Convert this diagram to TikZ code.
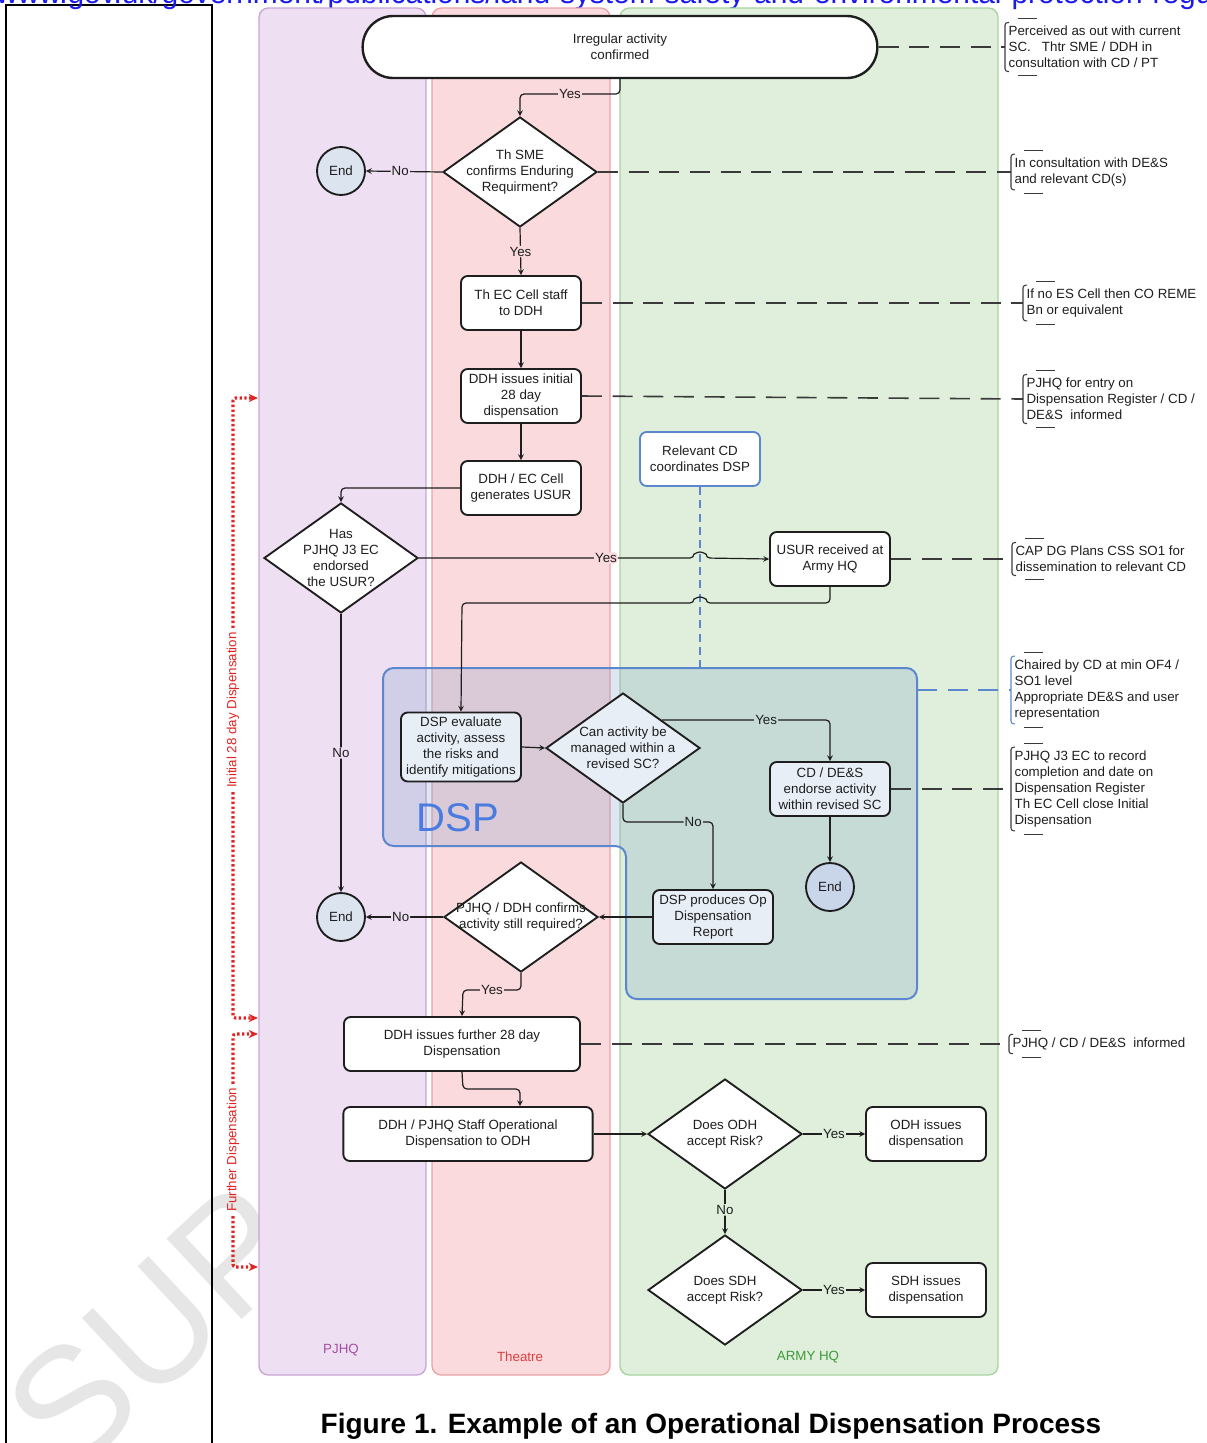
\documentclass[tikz,border=0pt]{standalone}
\usepackage{fontspec}
\setmainfont{Liberation Sans}
\usetikzlibrary{shapes.geometric,arrows.meta}

\definecolor{pjhqfill}{HTML}{EEDFF2}
\definecolor{pjhqline}{HTML}{C7A6D4}
\definecolor{pjhqtext}{HTML}{A2509E}
\definecolor{thfill}{HTML}{FADADC}
\definecolor{thline}{HTML}{EAA3A7}
\definecolor{thtext}{HTML}{D9403F}
\definecolor{armyfill}{HTML}{DFEFDB}
\definecolor{armyline}{HTML}{A8D3A0}
\definecolor{armytext}{HTML}{3C9A3C}
\definecolor{dspline}{HTML}{5B87CF}
\definecolor{dspfill}{HTML}{7C9CCB}
\definecolor{dsptext}{HTML}{4A7CE0}
\definecolor{dspnode}{HTML}{E8EEF6}
\definecolor{dsplbl}{HTML}{C6DAD7}
\definecolor{endfill}{HTML}{DCE4F0}
\definecolor{inkc}{HTML}{1E1E1E}
\definecolor{notec}{HTML}{3A3A3A}
\definecolor{bracered}{HTML}{E02424}
\definecolor{urlblue}{HTML}{1A1AEE}
\definecolor{wmgray}{HTML}{E6E6E6}

\tikzset{
  proc/.style={rectangle, draw=inkc, line width=1.4pt, rounded corners=5pt, fill=white,
    align=center, inner sep=1pt, minimum width=90pt, minimum height=40.5pt, text=inkc},
  dspproc/.style={proc, fill=dspnode},
  startbox/.style={proc, line width=1.8pt, rounded corners=23pt, minimum width=386pt, minimum height=46.5pt},
  decision/.style={diamond, draw=inkc, line width=1.4pt, fill=white, inner sep=0pt,
    minimum width=115.5pt, minimum height=82.5pt},
  dtext/.style={align=center, text=inkc, inner sep=0pt},
  endpt/.style={circle, draw=inkc, line width=1.4pt, fill=endfill, minimum size=36pt, inner sep=0pt, text=inkc},
  flow/.style={->, draw=inkc, line width=0.9pt, rounded corners=3pt},
  lbl/.style={inner sep=0.8pt, text=inkc},
  note/.style={anchor=west, align=left, inner sep=2.5pt, text=inkc},
  notelink/.style={draw=notec, line width=1.2pt, dash pattern=on 15pt off 8pt},
  brk/.style={draw=notec, line width=0.8pt},
  lane/.style={rounded corners=7pt, line width=1pt},
  brace/.style={-{Stealth[length=7pt,width=6pt]}, draw=bracered, line width=2.3pt,
    dash pattern=on 1.8pt off 1.8pt, rounded corners=2pt},
}

\begin{document}
\begin{tikzpicture}[x=0.75pt, y=-0.75pt, >=stealth, font=\fontsize{10}{12}\selectfont]
  \useasboundingbox (0,0) rectangle (1207,1443);
  \clip (0,0) rectangle (1207,1443);

  % Watermark, frame and link text
  \node[rotate=43, anchor=base west, inner sep=0pt, text=wmgray, font=\fontsize{120}{120}\selectfont] (wm) at (70,1480) {SUP};
  \draw[line width=1.5pt] (6,5) rectangle (212,1460);
  \node[anchor=base west, inner sep=0pt, text=urlblue, font=\fontsize{22.4}{26}\selectfont] (url) at (-4,3.5)
    {www.gov.uk/government/publications/land-system-safety-and-environmental-protection-regu};

  % Lanes
  \path[lane, draw=pjhqline, fill=pjhqfill] (259,8) rectangle (426,1375);
  \path[lane, draw=thline, fill=thfill] (432,8) rectangle (610,1375);
  \path[lane, draw=armyline, fill=armyfill] (620,8) rectangle (998,1375);
  \node[text=pjhqtext] (lp) at (341,1350) {PJHQ};
  \node[text=thtext] (lt) at (520,1357) {Theatre};
  \node[text=armytext] (la) at (808,1357) {ARMY HQ};

  % DSP group
  \path[draw=dspline, line width=1.5pt, fill=dspfill, fill opacity=0.25, rounded corners=8pt]
    (383,668) -- (917,668) -- (917,999) -- (626,999) -- (626,846) -- (383,846) -- cycle;
  \node[text=dsptext, font=\fontsize{30}{30}\selectfont] (dsplbl) at (458,818) {DSP};
  \coordinate (dspT) at (700,668);
  \coordinate (dspR) at (917,690);

  % Nodes
  \node[startbox] (st) at (620,47) {Irregular activity\\confirmed};
  \node[decision, label={[dtext]center:{Th SME\\confirms Enduring\\Requirment?}}] (d1) at (520,172) {};
  \node[endpt] (e1) at (341,171) {End};
  \node[proc] (b2) at (521,303) {Th EC Cell staff\\to DDH};
  \node[proc] (b3) at (521,396) {DDH issues initial\\28 day\\dispensation};
  \node[proc] (b4) at (521,488) {DDH / EC Cell\\generates USUR};
  \node[decision, label={[dtext]center:{Has\\PJHQ J3 EC\\endorsed\\the USUR?}}] (d2) at (341,558) {};
  \node[proc, draw=dspline] (rcd) at (700,459) {Relevant CD\\coordinates DSP};
  \node[proc] (usur) at (830,559) {USUR received at\\Army HQ};
  \node[dspproc, minimum height=51.75pt] (eval) at (461,747) {DSP evaluate\\activity, assess\\the risks and\\identify mitigations};
  \node[decision, fill=dspnode, label={[dtext]center:{Can activity be\\managed within a\\revised SC?}}] (d3) at (623,748) {};
  \node[dspproc] (cd) at (830,789) {CD / DE\&S\\endorse activity\\within revised SC};
  \node[endpt, fill=endfill!80!dspfill] (e3) at (830,887) {End};
  \node[dspproc] (prod) at (713,917) {DSP produces Op\\Dispensation\\Report};
  \node[decision, label={[dtext]center:{PJHQ / DDH confirms\\activity still required?}}] (d4) at (521,917) {};
  \node[endpt] (e2) at (341,917) {End};
  \node[proc, minimum width=177pt] (fur) at (462,1044) {DDH issues further 28 day\\Dispensation};
  \node[proc, minimum width=187pt] (staff) at (468,1134) {DDH / PJHQ Staff Operational\\Dispensation to ODH};
  \node[decision, label={[dtext]center:{Does ODH\\accept Risk?}}] (dodh) at (725,1134) {};
  \node[proc] (odh) at (926,1134) {ODH issues\\dispensation};
  \node[decision, label={[dtext]center:{Does SDH\\accept Risk?}}] (dsdh) at (725,1290) {};
  \node[proc] (sdh) at (926,1290) {SDH issues\\dispensation};
  \coordinate (k1) at (520,1089);

  % Notes
  \node[note] (n1) at (1005,47) {Perceived as out with current\\SC.\ \ \ Thtr SME / DDH in\\consultation with CD / PT};
  \node[note] (n2) at (1011,172) {In consultation with DE\&S\\and relevant CD(s)};
  \node[note] (n3) at (1023,303) {If no ES Cell then CO REME\\Bn or equivalent};
  \node[note] (n4) at (1023,399) {PJHQ for entry on\\Dispensation Register / CD /\\DE\&S\ \ informed};
  \node[note] (n5) at (1012,559) {CAP DG Plans CSS SO1 for\\dissemination to relevant CD};
  \node[note] (n6) at (1011,690) {Chaired by CD at min OF4 /\\SO1 level\\Appropriate DE\&S and user\\representation};
  \node[note] (n7) at (1011,789) {PJHQ J3 EC to record\\completion and date on\\Dispensation Register\\Th EC Cell close Initial\\Dispensation};
  \node[note] (n8) at (1009,1044) {PJHQ / CD / DE\&S\ \ informed};
  \foreach \n/\c in {n1/notec,n2/notec,n3/notec,n4/notec,n5/notec,n6/dspline,n7/notec,n8/notec} {
    \draw[brk, draw=\c, rounded corners=2pt] ([xshift=3pt]\n.north west) -| (\n.south west) -- ++(3pt,0);
    \draw[brk] ([xshift=10pt,yshift=3pt]\n.north west) -- ++(14pt,0);
    \draw[brk] ([xshift=10pt,yshift=-3pt]\n.south west) -- ++(14pt,0);
  }

  % Dashed links to notes
  \draw[draw=dspline, line width=1.2pt, dash pattern=on 6pt off 4pt] (rcd.south) -- (dspT);
  \draw[notelink] (st.east) -- (n1.west);
  \draw[notelink] (d1.east) -- (n2.west);
  \draw[notelink] (b2.east) -- (n3.west);
  \draw[notelink] (b3.east) -- (n4.west);
  \draw[notelink] (usur.east) -- (n5.west);
  \draw[notelink, draw=dspline] (dspR) -- (n6.west);
  \draw[notelink] (cd.east) -- (n7.west);
  \draw[notelink] (fur.east) -- (n8.west);

  % Arrows with labels
  \draw[flow] (st.south) -- (620,94) -- node[lbl, fill=thfill] {Yes} (520,94) -- (d1.north);
  \draw[flow] (d1.west) -- node[lbl, fill=pjhqfill, pos=0.55] {No} (e1.east);
  \draw[flow] (d1.south) -- node[lbl, fill=thfill] {Yes} (b2.north);
  \draw[flow] (b2) -- (b3);
  \draw[flow] (b3) -- (b4);
  \draw[flow] (b4.west) -| (d2.north);
  \draw[flow] (d2.east) -- node[lbl, fill=thfill, pos=0.68] {Yes} (694,558)
    arc[start angle=180, end angle=0, radius=4.5pt] -- (usur.west);
  \draw[flow] (usur.south) -- (830,603) -- (706,603)
    arc[start angle=0, end angle=180, radius=4.5pt] -- (462,603) -- (eval.north);
  \draw[flow] (eval.east) -- (d3.west);
  \draw[flow] (d3.north east) -- node[lbl, fill=dsplbl, pos=0.62] {Yes} (830,720) -- (cd.north);
  \draw[flow] (cd.south) -- (e3.north);
  \draw[flow] (d3.south) -- (623,822) -- node[lbl, fill=dsplbl, pos=0.78] {No} (713,822) -- (prod.north);
  \draw[flow] (prod.west) -- (d4.east);
  \draw[flow] (d4.west) -- node[lbl, fill=pjhqfill, pos=0.55] {No} (e2.east);
  \draw[flow] (d2.south) -- node[lbl, fill=pjhqfill] {No} (e2.north);
  \draw[flow] (d4.south) -- (521,990) -- node[lbl, fill=thfill] {Yes} (463,990) -- (fur.north);
  \draw[flow] (fur.south) -- (463,1089) -- (k1) -- (k1 |- staff.north);
  \draw[flow] (staff.east) -- (dodh.west);
  \draw[flow] (dodh.east) -- node[lbl, fill=armyfill] {Yes} (odh.west);
  \draw[flow] (dodh.south) -- node[lbl, fill=armyfill, pos=0.45] {No} (dsdh.north);
  \draw[flow] (dsdh.east) -- node[lbl, fill=armyfill] {Yes} (sdh.west);

  % Phase braces
  \node[rotate=90, text=bracered, inner sep=3pt] (ilbl) at (233,710) {Initial 28 day Dispensation};
  \node[rotate=90, text=bracered, inner sep=3pt] (flbl) at (233,1150) {Further Dispensation};
  \coordinate (iA) at (258,398);
  \coordinate (iB) at (258,1018);
  \coordinate (fA) at (258,1034);
  \coordinate (fB) at (258,1267);
  \draw[brace] (ilbl.east) |- (iA);
  \draw[brace] (ilbl.west) |- (iB);
  \draw[brace] (flbl.east) |- (fA);
  \draw[brace] (flbl.west) |- (fB);

  % Caption
  \node[font=\bfseries\fontsize{21}{25}\selectfont] (title) at (711,1426) {Figure 1. Example of an Operational Dispensation Process};
\end{tikzpicture}
\end{document}
